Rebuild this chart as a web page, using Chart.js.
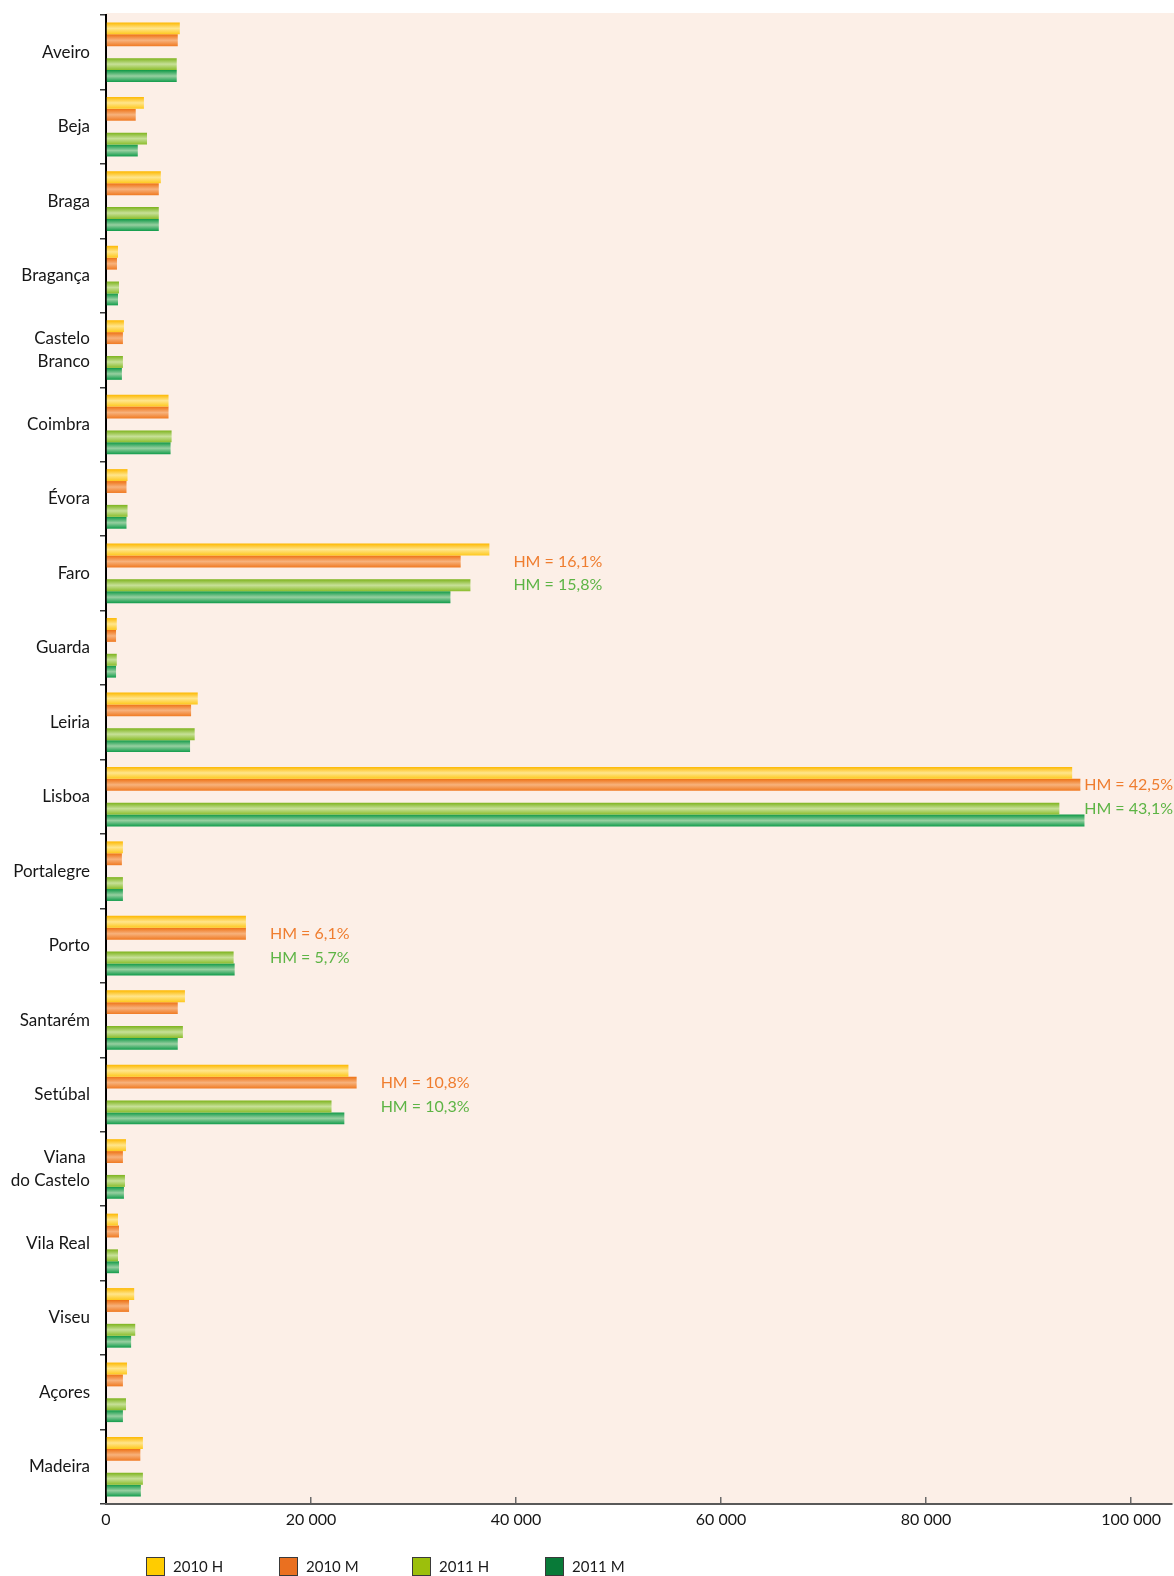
<!DOCTYPE html>
<html lang="pt">
<head>
<meta charset="utf-8">
<title>Distritos — 2010 / 2011, H e M</title>
<script src="https://cdn.jsdelivr.net/npm/chart.js@4/dist/chart.umd.min.js"></script>
<style>
  html, body { margin: 0; padding: 0; background: #ffffff; }
  #wrap { width: 1174px; height: 1576px; position: relative; }
  canvas { display: block; }
</style>
</head>
<body>
<div id="wrap"><canvas id="chart" width="1174" height="1576"></canvas></div>
<script>
// Districts (multi-line names are given as arrays)
const districts = [
  'Aveiro', 'Beja', 'Braga', 'Bragança', ['Castelo', 'Branco'], 'Coimbra', 'Évora',
  'Faro', 'Guarda', 'Leiria', 'Lisboa', 'Portalegre', 'Porto', 'Santarém', 'Setúbal',
  ['Viana ', 'do Castelo'], 'Vila Real', 'Viseu', 'Açores', 'Madeira'
];

// Values per district
const h2010 = [7200, 3700, 5350, 1170, 1750, 6100, 2100, 37400, 1050, 8950, 94250, 1650, 13650, 7700, 23650, 1950, 1170, 2750, 2050, 3600];
const m2010 = [7000, 2900, 5150, 1070, 1650, 6100, 2000, 34600, 980, 8300, 95050, 1550, 13650, 7000, 24450, 1650, 1270, 2250, 1650, 3350];
const h2011 = [6900, 4000, 5150, 1270, 1650, 6400, 2100, 35550, 1050, 8650, 93000, 1650, 12450, 7500, 22000, 1850, 1170, 2850, 1950, 3600];
const m2011 = [6900, 3100, 5150, 1170, 1550, 6300, 2000, 33600, 980, 8200, 95450, 1650, 12550, 7000, 23250, 1750, 1270, 2450, 1650, 3400];

// HM share notes shown next to selected districts
const noteDistricts = ['Faro', 'Lisboa', 'Porto', 'Setúbal'];
const hmShare2010 = [16.1, 42.5, 6.1, 10.8];
const hmShare2011 = [15.8, 43.1, 5.7, 10.3];

// Value axis
const xTickValues = [0, 20000, 40000, 60000, 80000, 100000];
const xMax = 104000;

// Series names
const seriesNames = ['2010 H', '2010 M', '2011 H', '2011 M'];

// ---- styles ----
const FONT = 'Lato, "Open Sans", sans-serif';
const legendColors = ['#ffcc00', '#ea7020', '#9cbf0c', '#087a38'];
const shading = [
  [[0, '#fdb800'], [0.5, '#ffe58c'], [1, '#fec81c']],
  [[0, '#ee7012'], [0.5, '#f7b27c'], [1, '#f07a22']],
  [[0, '#7db31c'], [0.5, '#c7e098'], [1, '#8bbd2c']],
  [[0, '#0e9946'], [0.5, '#97cfa0'], [1, '#119c4b']]
];
const noteColors = { y2010: '#ef7d2f', y2011: '#5db445' };

const fmtThousands = v => String(v).replace(/\B(?=(\d{3})+(?!\d))/g, ' ');
const fmtShare = v => 'HM = ' + v.toFixed(1).replace('.', ',') + '%';

// Plot background
const plotBackground = {
  id: 'plotBackground',
  beforeDraw(chart) {
    const { ctx, chartArea: a } = chart;
    ctx.save();
    ctx.fillStyle = '#fcefe7';
    ctx.fillRect(a.left, a.top - 2, chart.width - a.left, a.bottom - a.top + 2);
    ctx.restore();
  }
};

// Cylindrical shading of each bar (vertical gradient across the bar thickness)
const barShading = {
  id: 'barShading',
  beforeDatasetDraw(chart, args) {
    const ds = chart.data.datasets[args.index];
    const stops = ds.shadeStops;
    if (!stops) return;
    const ctx = chart.ctx;
    args.meta.data.forEach(bar => {
      const top = bar.y - bar.height / 2;
      const g = ctx.createLinearGradient(0, top, 0, top + bar.height);
      stops.forEach(([o, c]) => g.addColorStop(o, c));
      bar.options = Object.assign({}, bar.options, { backgroundColor: g });
    });
  }
};

// HM share notes, aligned with the 2010 M and 2011 H bars
const shareNotes = {
  id: 'shareNotes',
  afterDatasetsDraw(chart) {
    const { ctx } = chart;
    const xs = chart.scales.x;
    ctx.save();
    ctx.font = '16px ' + FONT;
    ctx.textBaseline = 'middle';
    ctx.textAlign = 'left';
    noteDistricts.forEach((name, k) => {
      const i = districts.findIndex(d => (Array.isArray(d) ? d.join(' ') : d) === name);
      const longest = Math.max(h2010[i], m2010[i], h2011[i], m2011[i]);
      const t1 = fmtShare(hmShare2010[k]);
      const t2 = fmtShare(hmShare2011[k]);
      const w = Math.max(ctx.measureText(t1).width, ctx.measureText(t2).width);
      const x = Math.min(xs.getPixelForValue(longest) + 24, chart.width - w - 1);
      const barM10 = chart.getDatasetMeta(1).data[i];
      const barH11 = chart.getDatasetMeta(3).data[i];
      ctx.fillStyle = noteColors.y2010;
      ctx.fillText(t1, x, barM10.y);
      ctx.fillStyle = noteColors.y2011;
      ctx.fillText(t2, x, barH11.y);
    });
    ctx.restore();
  }
};

// Legend row under the axis
const legendRow = {
  id: 'legendRow',
  afterDraw(chart) {
    const { ctx } = chart;
    const box = 19, startX = 146, pitch = 133, top = 1557;
    ctx.save();
    ctx.font = '15px ' + FONT;
    ctx.textBaseline = 'middle';
    ctx.textAlign = 'left';
    seriesNames.forEach((name, k) => {
      const x = startX + k * pitch;
      ctx.fillStyle = legendColors[k];
      ctx.fillRect(x, top, box, box);
      ctx.strokeStyle = '#3a3a3a';
      ctx.lineWidth = 1;
      ctx.strokeRect(x + 0.5, top + 0.5, box - 1, box - 1);
      ctx.fillStyle = '#1a1a1a';
      ctx.fillText(name, x + box + 8, top + box / 2 + 1);
    });
    ctx.restore();
  }
};

const spacer = districts.map(() => null);

function build() {
  const seriesData = [h2010, m2010, h2011, m2011];
  const datasets = [];
  seriesData.forEach((data, k) => {
    if (k === 2) {
      // empty slot separating the 2010 pair from the 2011 pair
      datasets.push({ label: '', data: spacer, backgroundColor: 'rgba(0,0,0,0)' });
    }
    datasets.push({
      label: seriesNames[k],
      data: data,
      backgroundColor: legendColors[k],
      shadeStops: shading[k],
      borderWidth: 0
    });
  });

  new Chart(document.getElementById('chart'), {
    type: 'bar',
    data: { labels: districts, datasets },
    options: {
      indexAxis: 'y',
      responsive: false,
      maintainAspectRatio: false,
      animation: false,
      categoryPercentage: 0.8,
      barPercentage: 1.0,
      layout: { padding: { top: 15, right: 0, bottom: 42, left: 0 } },
      plugins: {
        legend: { display: false },
        tooltip: { enabled: false }
      },
      scales: {
        y: {
          type: 'category',
          grid: {
            offset: true,
            drawOnChartArea: false,
            tickLength: 6,
            color: '#3a3a3a',
            lineWidth: 1.5
          },
          border: { display: true, color: '#000000', width: 2 },
          ticks: {
            color: '#161616',
            padding: 10,
            font: { family: FONT, size: 17, lineHeight: 1.3 },
            autoSkip: false
          },
          afterFit(scale) {
            scale.width = 106;
            scale.paddingTop = 0;
            scale.paddingBottom = 0;
          }
        },
        x: {
          type: 'linear',
          min: 0,
          max: xMax,
          grid: {
            drawOnChartArea: false,
            tickLength: -7,
            color: '#6a6a6a',
            lineWidth: 1.5
          },
          border: { display: true, color: '#595959', width: 2 },
          ticks: {
            color: '#161616',
            padding: 13,
            font: { family: FONT, size: 16 },
            callback: v => fmtThousands(v)
          },
          afterBuildTicks(scale) {
            scale.ticks = xTickValues.map(v => ({ value: v }));
          },
          afterFit(scale) { scale.height = 30; }
        }
      }
    },
    plugins: [plotBackground, barShading, shareNotes, legendRow]
  });
}

if (document.fonts && document.fonts.load) {
  document.fonts.load('16px Lato').then(build, build);
} else {
  build();
}
</script>
</body>
</html>
